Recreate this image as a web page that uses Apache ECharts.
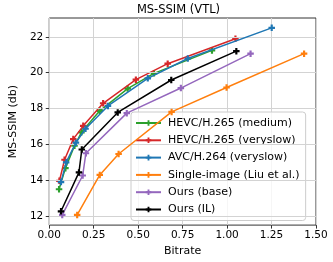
<!DOCTYPE html>
<html>
<head>
<meta charset="utf-8">
<style>
html,body{margin:0;padding:0;background:#fff;}
#chart{width:333px;height:262px;}
</style>
<script src="https://cdn.jsdelivr.net/npm/echarts@6/dist/echarts.min.js"></script>
</head>
<body>
<div id="chart"></div>
<script>
const seriesNames = ['HEVC/H.265 (medium)', 'HEVC/H.265 (veryslow)', 'AVC/H.264 (veryslow)', 'Single-image (Liu et al.)', 'Ours (base)', 'Ours (IL)'];
const seriesColors = ['#2ca02c', '#d62728', '#1f77b4', '#ff7f0e', '#9467bd', '#000000'];

const hevcMediumX = [0.055, 0.091, 0.142, 0.181, 0.284, 0.441, 0.589, 0.915];
const hevcMediumY = [13.49, 14.67, 15.92, 16.67, 17.87, 19.11, 19.96, 21.24];
const hevcSlowX = [0.057, 0.086, 0.135, 0.191, 0.303, 0.487, 0.666, 1.047];
const hevcSlowY = [13.96, 15.14, 16.29, 17.03, 18.29, 19.61, 20.50, 21.89];
const avcSlowX = [0.066, 0.095, 0.150, 0.204, 0.330, 0.554, 0.779, 1.251];
const avcSlowY = [13.89, 14.99, 16.09, 16.87, 18.14, 19.68, 20.79, 22.50];
const singleX = [0.157, 0.284, 0.390, 0.688, 0.997, 1.433];
const singleY = [12.06, 14.29, 15.46, 17.81, 19.17, 21.06];
const baseX = [0.073, 0.188, 0.206, 0.436, 0.740, 1.132];
const baseY = [12.06, 14.26, 15.50, 17.74, 19.14, 21.06];
const ilX = [0.066, 0.167, 0.183, 0.385, 0.686, 1.052];
const ilY = [12.26, 14.43, 15.71, 17.78, 19.59, 21.20];

const yTicks = [12, 14, 16, 18, 20, 22];

const allX = [hevcMediumX, hevcSlowX, avcSlowX, singleX, baseX, ilX];
const allY = [hevcMediumY, hevcSlowY, avcSlowY, singleY, baseY, ilY];

const FONT = 'DejaVu Sans';
const FS = 10.5;
const plusPath = 'path://M1,0H2V1H3V2H2V3H1V2H0V1H1Z';

const chart = echarts.init(document.getElementById('chart'), null, {renderer: 'canvas'});

const series = seriesNames.map((name, i) => ({
  name: name,
  type: 'line',
  data: allX[i].map((x, j) => [x, allY[i][j]]),
  symbol: plusPath,
  symbolSize: 6.5,
  showAllSymbol: true,
  lineStyle: {width: 1.5, color: seriesColors[i]},
  itemStyle: {color: seriesColors[i]},
  emphasis: {disabled: true},
  animation: false,
  z: 3 + i
}));

series.unshift({
  name: '_grid',
  type: 'line',
  data: [],
  silent: true,
  z: 1,
  markLine: {
    silent: true,
    symbol: 'none',
    animation: false,
    label: {show: false},
    lineStyle: {color: '#d3d3d3', width: 1, type: 'solid'},
    emphasis: {disabled: true},
    data: yTicks.map(v => ({yAxis: v}))
  }
});

chart.setOption({
  animation: false,
  title: {
    text: 'MS-SSIM (VTL)',
    left: 178.5,
    textAlign: 'center',
    top: 4,
    padding: 0,
    textStyle: {fontFamily: FONT, fontSize: 11.5, fontWeight: 'normal', color: '#000'}
  },
  grid: {
    left: 41, right: 17, top: 18, bottom: 35,
    show: true, borderColor: '#333', borderWidth: 1, backgroundColor: 'transparent'
  },
  legend: {
    orient: 'vertical',
    left: 131,
    top: 112,
    padding: [4, 6, 4, 4],
    itemWidth: 25,
    itemHeight: 7,
    itemGap: 3.3,
    backgroundColor: 'rgba(255,255,255,0.8)',
    borderColor: '#cccccc',
    borderWidth: 1,
    borderRadius: 3,
    textStyle: {fontFamily: FONT, fontSize: 11, color: '#000', lineHeight: 14, padding: [0, 0, 0, 2]},
    data: seriesNames
  },
  xAxis: {
    type: 'value',
    min: 0,
    max: 1.5,
    interval: 0.25,
    name: 'Bitrate',
    nameLocation: 'middle',
    nameGap: 17,
    nameTextStyle: {fontFamily: FONT, fontSize: 11, color: '#000'},
    axisLine: {show: false},
    axisTick: {show: true, length: 3.5, lineStyle: {color: '#333'}},
    axisLabel: {fontFamily: FONT, fontSize: FS, color: '#000', margin: 5,
      formatter: v => v.toFixed(2)},
    splitLine: {show: true, lineStyle: {color: '#d3d3d3', width: 1}}
  },
  yAxis: {
    type: 'value',
    min: 11.49,
    max: 23.05,
    name: 'MS-SSIM (db)',
    nameLocation: 'middle',
    nameGap: 23,
    nameTextStyle: {fontFamily: FONT, fontSize: 11, color: '#000'},
    axisLine: {show: false},
    axisTick: {show: true, length: 3.5, lineStyle: {color: '#333'}, customValues: yTicks},
    axisLabel: {fontFamily: FONT, fontSize: FS, color: '#000', margin: 6, customValues: yTicks,
      formatter: v => String(Math.round(v))},
    splitLine: {show: false}
  },
  series: series
});
</script>
</body>
</html>
